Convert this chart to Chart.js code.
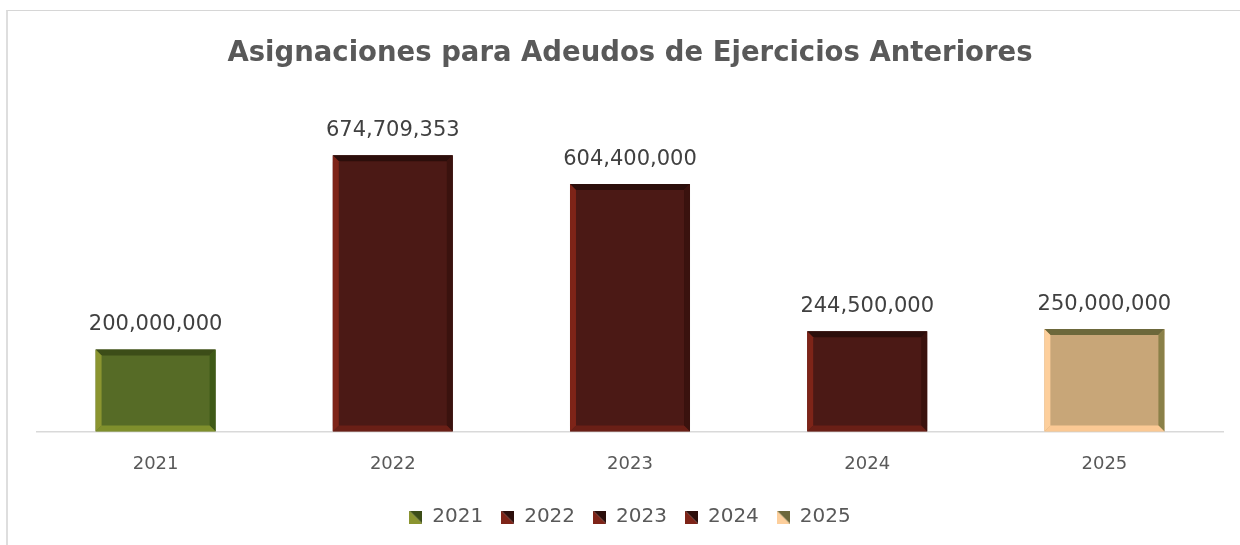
<!DOCTYPE html>
<html>
<head>
<meta charset="utf-8">
<script src="https://cdn.jsdelivr.net/npm/chart.js@4/dist/chart.umd.min.js"></script>
<style>
  html, body { margin: 0; padding: 0; background: #fff; }
  #wrap { position: relative; width: 1240px; height: 545px; overflow: hidden; }
  #frame { position: absolute; left: 6px; top: 10px; width: 1300px; height: 600px;
           border-left: 2px solid #dedede; border-top: 1px solid #d6d6d6; }
  #c { position: absolute; left: 0; top: 0; }
</style>
</head>
<body>
<div id="wrap">
  <div id="frame"></div>
  <canvas id="c" width="1240" height="545"></canvas>
</div>
<script>
// datos
const years = ['2021', '2022', '2023', '2024', '2025'];
const amounts = [200000000, 674709353, 604400000, 244500000, 250000000];
const chartTitle = 'Asignaciones para Adeudos de Ejercicios Anteriores';

// colores de cada barra: centro, arriba, derecha, abajo, izquierda
const faceColors  = ['#566b26', '#4b1915', '#4b1915', '#4b1915', '#c8a678'];
const topColors   = ['#3c4d18', '#2c0e0b', '#2c0e0b', '#2c0e0b', '#6c683b'];
const rightColors = ['#3f5a17', '#3a120e', '#3a120e', '#3a120e', '#8a8048'];
const botColors   = ['#7f8f2c', '#6a1f16', '#6a1f16', '#6a1f16', '#fbc994'];
const leftColors  = ['#8b9530', '#7e2418', '#7e2418', '#7e2418', '#fdcf9c'];

const FONT = '"DejaVu Sans", "Liberation Sans", sans-serif';

// marcador de leyenda: cuadro partido en diagonal
function legendMarker(light, dark) {
  const cv = document.createElement('canvas');
  cv.width = 13; cv.height = 13;
  const g = cv.getContext('2d');
  g.fillStyle = light;
  g.beginPath(); g.moveTo(0, 0); g.lineTo(0, 13); g.lineTo(13, 13); g.closePath(); g.fill();
  g.fillStyle = dark;
  g.beginPath(); g.moveTo(0, 0); g.lineTo(13, 0); g.lineTo(13, 13); g.closePath(); g.fill();
  return cv;
}
const markers = years.map((y, i) => legendMarker(leftColors[i], topColors[i]));

const bevelPlugin = {
  id: 'bevel',
  afterDatasetsDraw(chart) {
    const ctx = chart.ctx;
    const meta = chart.getDatasetMeta(0);
    const b = 6;
    meta.data.forEach((bar, i) => {
      const L = bar.x - bar.width / 2, R = bar.x + bar.width / 2;
      const T = bar.y, B = bar.base;
      const poly = (pts, col) => {
        ctx.fillStyle = col;
        ctx.beginPath();
        ctx.moveTo(pts[0][0], pts[0][1]);
        for (let k = 1; k < pts.length; k++) ctx.lineTo(pts[k][0], pts[k][1]);
        ctx.closePath();
        ctx.fill();
      };
      ctx.save();
      poly([[L, T], [R, T], [R - b, T + b], [L + b, T + b]], topColors[i]);
      poly([[R, T], [R, B], [R - b, B - b], [R - b, T + b]], rightColors[i]);
      poly([[L, B], [R, B], [R - b, B - b], [L + b, B - b]], botColors[i]);
      poly([[L, T], [L + b, T + b], [L + b, B - b], [L, B]], leftColors[i]);
      ctx.restore();
    });
  }
};

const valueLabels = {
  id: 'valueLabels',
  afterDatasetsDraw(chart) {
    const ctx = chart.ctx;
    const meta = chart.getDatasetMeta(0);
    ctx.save();
    ctx.font = '21px ' + FONT;
    ctx.fillStyle = '#404040';
    ctx.textAlign = 'center';
    ctx.textBaseline = 'middle';
    meta.data.forEach((bar, i) => {
      ctx.fillText(amounts[i].toLocaleString('en-US'), bar.x, bar.y - 25);
    });
    ctx.restore();
  }
};

new Chart(document.getElementById('c'), {
  type: 'bar',
  data: {
    labels: years,
    datasets: [{
      label: 'Importe',
      data: amounts,
      backgroundColor: faceColors,
      borderWidth: 0,
      categoryPercentage: 1,
      barPercentage: 0.506
    }]
  },
  options: {
    responsive: false,
    animation: false,
    layout: { padding: { left: 37, right: 17, top: 0, bottom: 8 } },
    plugins: {
      title: {
        display: true,
        text: chartTitle,
        color: '#595959',
        font: { family: FONT, size: 27.5, weight: 'bold' },
        padding: { top: 37, bottom: 34 }
      },
      legend: {
        position: 'bottom',
        labels: {
          color: '#595959',
          font: { family: FONT, size: 20 },
          usePointStyle: true,
          boxWidth: 13,
          boxHeight: 13,
          padding: 18,
          generateLabels: () => years.map((y, i) => ({
            text: y,
            fontColor: '#595959',
            pointStyle: markers[i],
            fillStyle: faceColors[i],
            strokeStyle: 'transparent',
            lineWidth: 0,
            hidden: false,
            index: i,
            datasetIndex: 0
          }))
        },
        onClick: () => {}
      },
      tooltip: { enabled: false }
    },
    scales: {
      x: {
        grid: { display: false, drawTicks: false },
        border: { display: true, color: '#d9d9d9', width: 1.5 },
        ticks: { color: '#595959', font: { family: FONT, size: 18 }, padding: 22 },
        afterFit(axis) { axis.height -= 8; }
      },
      y: {
        display: false,
        min: 0,
        max: 800000000
      }
    }
  },
  plugins: [bevelPlugin, valueLabels]
});
</script>
</body>
</html>
